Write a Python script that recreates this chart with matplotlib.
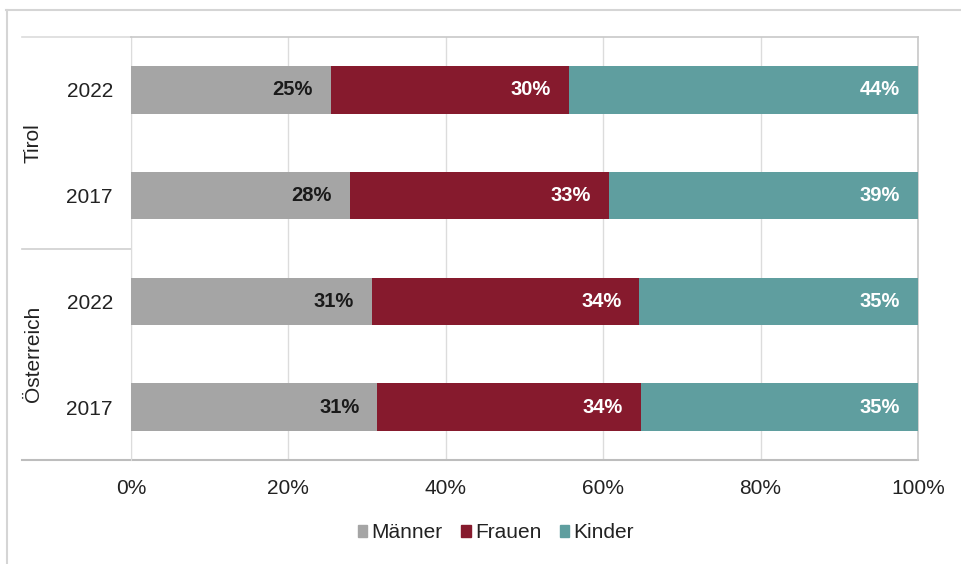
import matplotlib.pyplot as plt
from matplotlib.patches import Patch
from matplotlib.lines import Line2D
import matplotlib.transforms as mtransforms
import numpy as np

plt.rcParams['font.family'] = ['Liberation Sans', 'DejaVu Sans']

# data, top to bottom
years = ["2022", "2017", "2022", "2017"]
groups = ["Tirol", "Österreich"]
maenner = [25.4, 27.8, 30.6, 31.3]
frauen = [30.2, 32.9, 34.0, 33.5]
kinder = [44.4, 39.3, 35.4, 35.2]
series_names = ["Männer", "Frauen", "Kinder"]
colors = ["#a5a5a5", "#861a2d", "#5f9e9f"]
label_colors = ["#1a1a1a", "white", "white"]

W, H = 961, 564
fig = plt.figure(figsize=(W / 100, H / 100), dpi=100)
ax = fig.add_axes([131 / W, 1 - 460 / H, (918 - 131) / W, (460 - 37) / H])

y = np.arange(len(years))
left = np.zeros(len(years))
for vals, name, col, lcol in zip([maenner, frauen, kinder], series_names, colors, label_colors):
    vals = np.array(vals)
    ax.barh(y, vals, left=left, height=0.45, color=col, zorder=3, label=name)
    for yi, (l, v) in enumerate(zip(left, vals)):
        ax.annotate(f"{v:.0f}%", xy=(l + v, yi), xytext=(-13, 0), textcoords="offset points",
                    ha="right", va="center", fontsize=14.5, fontweight="bold", color=lcol, zorder=4)
    left += vals

ax.set_xlim(0, 100)
ax.set_ylim(3.5, -0.5)
ax.set_xticks([0, 20, 40, 60, 80, 100])
ax.set_xticklabels([f"{t}%" for t in [0, 20, 40, 60, 80, 100]])
ax.set_yticks(y)
ax.set_yticklabels(years)
ax.tick_params(axis="both", length=0, labelsize=15, colors="#222222")
ax.tick_params(axis="x", pad=14)
ax.tick_params(axis="y", pad=13)
ax.grid(axis="x", color="#dcdcdc", linewidth=1, zorder=0)

for s in ["top", "right"]:
    ax.spines[s].set_color("#c8c8c8")
    ax.spines[s].set_linewidth(1.2)
ax.spines["left"].set_color("#dcdcdc")
ax.spines["bottom"].set_visible(False)

# category group lines and labels on the left
trans = mtransforms.blended_transform_factory(ax.transAxes, ax.transData)
x0 = (22 - 131) / (918 - 131)
ax.add_line(Line2D([x0, 1], [3.5, 3.5], transform=trans, color="#bdbdbd", linewidth=1.5, clip_on=False))
ax.add_line(Line2D([x0, 0], [1.5, 1.5], transform=trans, color="#cfcfcf", linewidth=1.2, clip_on=False))
ax.add_line(Line2D([x0, 0], [-0.5, -0.5], transform=trans, color="#dcdcdc", linewidth=1.2, clip_on=False))
xg = (33 - 131) / (918 - 131)
for gi, g in enumerate(groups):
    ax.text(xg, 0.5 + 2 * gi, g, transform=trans, rotation=90, ha="center", va="center",
            fontsize=15, color="#222222")

handles = [Patch(color=c, label=n) for c, n in zip(colors, series_names)]
fig.legend(handles=handles, loc="center", bbox_to_anchor=(496 / W, 1 - 533 / H), ncol=3,
           frameon=False, fontsize=15, handlelength=0.45, handleheight=0.45,
           handletextpad=0.2, columnspacing=0.9, labelcolor="#222222")

# outer frame (top and left edges)
fig.add_artist(Line2D([6 / W, 1], [1 - 10 / H, 1 - 10 / H], transform=fig.transFigure, color="#d5d5d5", linewidth=1.5))
fig.add_artist(Line2D([7 / W, 7 / W], [0, 1 - 10 / H], transform=fig.transFigure, color="#d5d5d5", linewidth=1.5))

fig.savefig("out.png", dpi=100)
